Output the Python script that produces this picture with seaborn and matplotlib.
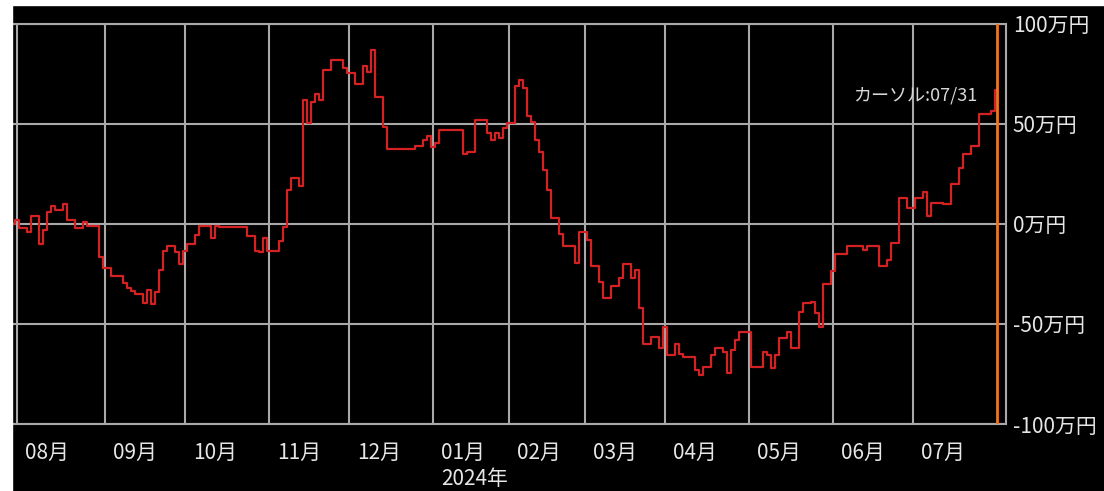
import matplotlib
matplotlib.use("Agg")
import matplotlib.pyplot as plt
import matplotlib.transforms as mtransforms
from matplotlib.patches import Rectangle
import seaborn as sns
import numpy as np
import pandas as pd

# trading-day index (0 = 2023/07/31) where the balance changes, and the new balance (万円)
change_day = [0, 1, 2, 4, 5, 7, 8, 9, 10, 11, 13, 14, 16, 18, 19, 22, 23, 25, 28, 29,
              30, 31, 33, 34, 35, 36, 37, 38, 39, 41, 42, 43, 44, 46, 47, 50, 51, 52, 59, 61,
              62, 63, 64, 67, 68, 69, 70, 72, 73, 74, 75, 76, 77, 78, 80, 83, 84, 86, 88, 89,
              90, 91, 93, 94, 101, 103, 104, 105, 106, 107, 113, 114, 116, 119, 120, 121, 122, 123, 124, 126,
              127, 128, 129, 130, 131, 132, 133, 134, 135, 137, 138, 141, 142, 144, 145, 147, 148, 150, 152, 153,
              155, 156, 157, 158, 160, 162, 163, 164, 166, 167, 168, 171, 172, 173, 175, 176, 178, 179, 180, 181,
              182, 185, 188, 189, 190, 191, 192, 194, 195, 197, 198, 200, 201, 202, 203, 205, 206, 209, 213, 214,
              217, 219, 220, 222, 224, 226, 228, 229, 230, 233, 235, 237, 238, 240, 242, 245, 246]
change_val = [0, 2, -2.2, -4.2, 4, -10.2, -3, 6.2, 9, 7, 10, 2, -2.2, 0.8, -1, -16.3, -22.2, -26, -29.7, -32.2,
              -33.3, -35, -39.3, -33, -40, -33.8, -23, -13.3, -11, -13.8, -20, -13.3, -10, -5.5, -1, -7.2, -1, -1.7, -6, -13.3,
              -14.2, -7.2, -13.3, -8.3, -1.7, 17, 22.8, 19, 62, 50.7, 61.2, 65, 62, 77, 82, 78, 75.5, 70, 79, 76.2,
              87, 63.7, 48.3, 37.3, 39, 42, 44, 38.3, 40.7, 47, 35, 36.2, 52, 45.7, 42, 45.7, 42.8, 47.8, 50.3, 69.2,
              72, 67.8, 54, 51.2, 42, 36.2, 27, 17, 3, -5, -11, -19.3, -4.2, -8, -21, -28.8, -37.2, -31, -27.2, -20,
              -27.2, -23, -42.2, -60, -56.3, -62.2, -51.3, -65.5, -60.2, -65.2, -66.3, -73, -75.5, -71.3, -65.5, -62.2, -63.8, -74.3, -63, -58,
              -53.8, -71.3, -63.8, -65.5, -72.2, -65.5, -57.2, -53.8, -62.2, -43.8, -39.7, -38.8, -44.7, -51.3, -30, -23.3, -15, -11, -13, -11,
              -21, -18, -9.7, 12.8, 7.8, 12.8, 15.8, 4, 10.7, 9.8, 19.8, 27.8, 35, 39, 55, 56.7, 67]
last_day = 246

month_start = [1, 23, 43, 64, 84, 105, 124, 143, 163, 184, 205, 225]
month_label = ['08月', '09月', '10月', '11月', '12月', '01月', '02月', '03月', '04月', '05月', '06月', '07月']
year_label = '2024年'
year_day = 105

y_ticks = [100, 50, 0, -50, -100]
y_labels = ['100万円', '50万円', '0万円', '-50万円', '-100万円']

cursor_day = 246
cursor_text = 'カーソル:07/31'

# hold each balance until the next change
days = np.arange(last_day + 1)
idx = np.searchsorted(change_day, days, side='right') - 1
df = pd.DataFrame({'day': days, 'balance': np.array(change_val)[idx]})

sns.set_style('dark')
plt.rcParams['font.family'] = ['Noto Sans CJK JP', 'DejaVu Sans']

W, H = 1104, 491
fig = plt.figure(figsize=(W / 100, H / 100), dpi=100, facecolor='black')
ax = fig.add_axes([12 / W, (H - 424) / H, (1006 - 12) / W, (424 - 24) / H])
ax.set_facecolor('black')

grid_c = '#a9a9a9'
txt_c = '#e6e6e6'

sns.lineplot(data=df, x='day', y='balance', drawstyle='steps-mid', color='#d42222',
             linewidth=1.6, estimator=None, ax=ax, zorder=3)
ax.axvline(cursor_day, color='#e8772e', linewidth=2, zorder=4)

ax.set_xlim(-0.35, 248.15)
ax.set_ylim(-100, 100)
ax.set_xticks(month_start)
ax.set_xticklabels(month_label)
ax.set_yticks(y_ticks)
ax.set_yticklabels(y_labels)
ax.yaxis.tick_right()
ax.set_xlabel('')
ax.set_ylabel('')
ax.grid(True, color=grid_c, linewidth=1.5)
ax.tick_params(axis='both', length=0, labelcolor=txt_c, labelsize=15)
ax.tick_params(axis='x', pad=13)
ax.tick_params(axis='y', pad=5)

for side in ['top', 'bottom', 'right']:
    ax.spines[side].set_visible(True)
    ax.spines[side].set_color(grid_c)
    ax.spines[side].set_linewidth(1.5)
ax.spines['left'].set_visible(False)

offset = mtransforms.ScaledTranslation(8 / 100, 0, fig.dpi_scale_trans)
for lab in ax.get_xticklabels():
    lab.set_horizontalalignment('left')
    lab.set_transform(lab.get_transform() + offset)

ax.annotate(year_label, xy=(year_day, 0), xycoords=('data', 'axes fraction'),
            xytext=(8, -55), textcoords='offset pixels', ha='left', va='center',
            color=txt_c, fontsize=15, annotation_clip=False)
ax.annotate(cursor_text, xy=(cursor_day, 1), xycoords=('data', 'axes fraction'),
            xytext=(-20, -72), textcoords='offset pixels', ha='right', va='center',
            color='#d8d8d8', fontsize=13)

# white margins of the original screenshot
fig.patches.append(Rectangle((0, 1 - 5 / H), 1, 5 / H, transform=fig.transFigure,
                             color='white', zorder=0))
fig.patches.append(Rectangle((0, 0), 12 / W, 1, transform=fig.transFigure,
                             color='white', zorder=0))

fig.savefig('out.png', dpi=100, facecolor='black')
